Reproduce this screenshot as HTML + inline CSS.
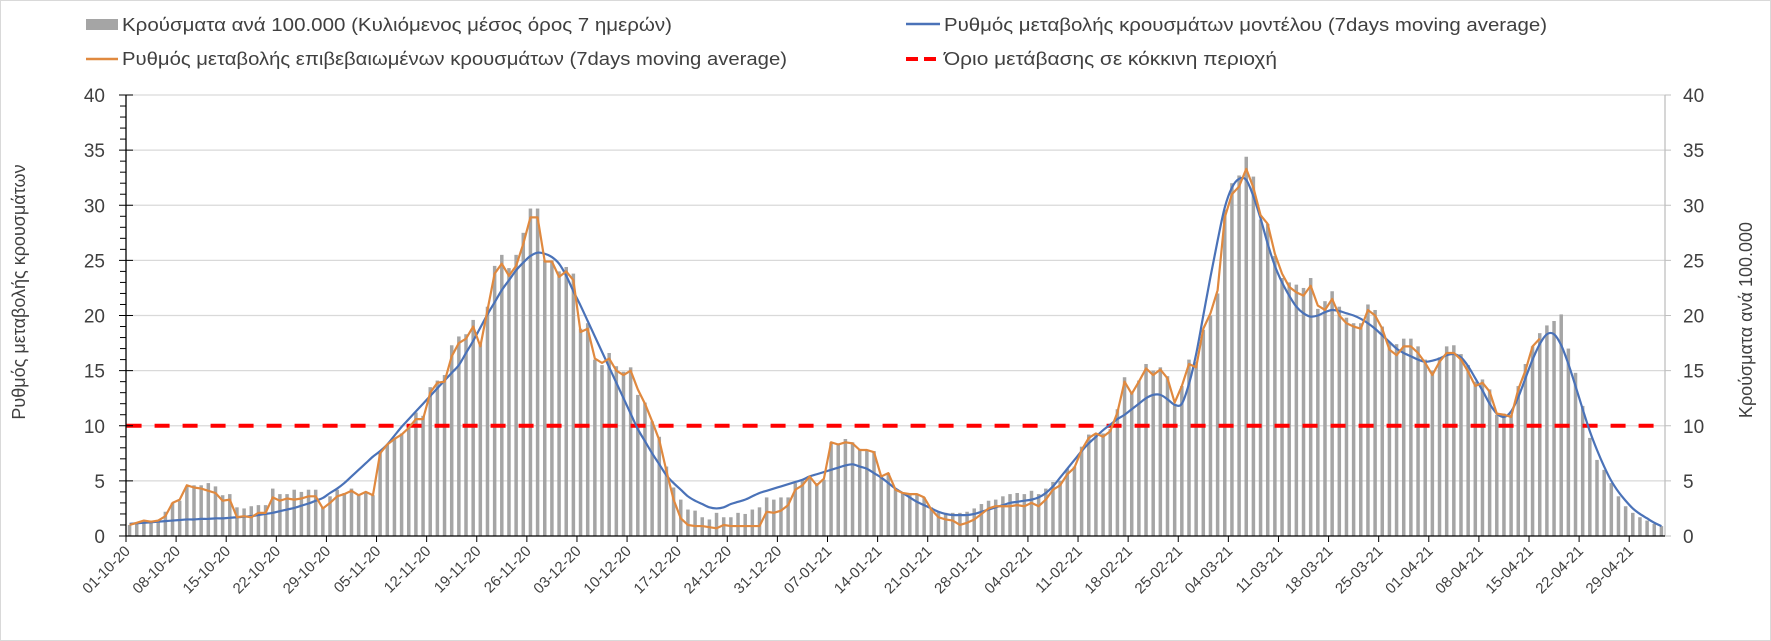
<!DOCTYPE html>
<html><head><meta charset="utf-8">
<style>
html,body{margin:0;padding:0;background:#fff;}
svg{display:block;font-family:"Liberation Sans",Arial,sans-serif;}
</style></head>
<body>
<svg id="chart" width="1771" height="641" viewBox="0 0 1771 641" xmlns="http://www.w3.org/2000/svg">
<rect x="0.5" y="0.5" width="1770" height="640" fill="#fff" stroke="#d9d9d9"/>
<g id="legend">
  <g>
    <rect x="86" y="19" width="32" height="11" fill="#a5a5a5"/>
    <text x="122" y="31" font-size="18" fill="#404040" textLength="550" lengthAdjust="spacingAndGlyphs">Κρούσματα ανά 100.000 (Κυλιόμενος μέσος όρος 7 ημερών)</text>
  </g>
  <g>
    <line x1="86" y1="59" x2="118" y2="59" stroke="#e0893f" stroke-width="2.5"/>
    <text x="122" y="65" font-size="18" fill="#404040" textLength="665" lengthAdjust="spacingAndGlyphs">Ρυθμός μεταβολής επιβεβαιωμένων κρουσμάτων (7days moving average)</text>
  </g>
  <g>
    <line x1="906" y1="24" x2="940" y2="24" stroke="#4a72b8" stroke-width="2.5"/>
    <text x="944" y="31" font-size="18" fill="#404040" textLength="603" lengthAdjust="spacingAndGlyphs">Ρυθμός μεταβολής κρουσμάτων μοντέλου (7days moving average)</text>
  </g>
  <g>
    <line x1="906" y1="59" x2="940" y2="59" stroke="#ff0000" stroke-width="4" stroke-dasharray="12,6"/>
    <text x="944" y="65" font-size="18" fill="#404040" textLength="333" lengthAdjust="spacingAndGlyphs">Όριο μετάβασης σε κόκκινη περιοχή</text>
  </g>
</g>
<text transform="translate(25,292) rotate(-90)" text-anchor="middle" font-size="18" fill="#404040">Ρυθμός μεταβολής κρουσμάτων</text>
<text transform="translate(1752,320) rotate(-90)" text-anchor="middle" font-size="18" fill="#404040">Κρούσματα ανά 100.000</text>
<g id="grid"></g>
<g id="bars"></g>
<g id="lines"></g>
<g id="axes"></g>
</svg>
<script>
const casesPer100k = [
1.0,1.2,1.4,1.4,1.4,2.2,3.0,3.2,4.5,4.6,
4.6,4.8,4.5,3.7,3.8,2.6,2.5,2.7,2.8,2.8,
4.3,3.8,3.8,4.2,4.0,4.2,4.2,2.6,3.6,4.2,
3.9,4.3,3.8,4.0,3.7,7.6,8.3,8.8,9.3,10.1,
11.2,10.9,13.5,14.1,14.6,17.3,18.1,18.3,19.6,17.5,
20.8,24.5,25.5,24.3,25.5,27.5,29.7,29.7,25.0,25.0,
24.0,24.4,23.8,18.8,19.3,16.0,15.5,16.6,15.4,14.9,
15.3,12.8,12.1,10.4,9.0,6.3,4.4,3.3,2.4,2.3,
1.7,1.5,2.1,1.7,1.7,2.1,2.0,2.4,2.6,3.5,
3.3,3.5,3.5,4.8,5.1,5.4,4.8,5.1,8.5,8.4,
8.8,8.5,7.9,7.8,7.7,5.5,5.7,4.3,3.9,3.8,
3.8,3.5,2.6,2.2,2.1,2.1,2.1,2.2,2.5,2.9,
3.2,3.3,3.6,3.8,3.9,3.8,4.1,3.8,4.3,4.9,
5.0,6.1,6.3,8.1,9.2,9.3,9.3,9.7,11.5,14.4,
13.0,14.1,15.6,15.0,15.3,14.5,12.0,13.6,16.0,15.8,
18.7,20.0,22.0,29.6,32.0,32.7,34.4,32.6,28.7,28.3,
25.4,23.4,23.0,22.8,22.5,23.4,20.6,21.3,22.2,20.8,
19.8,19.3,19.3,21.0,20.5,19.0,17.6,17.4,17.9,17.9,
17.2,16.0,15.0,16.2,17.2,17.3,16.5,15.5,14.0,14.2,
13.3,11.0,11.1,11.0,13.6,15.6,17.2,18.4,19.1,19.5,
20.1,17.0,14.8,11.8,8.9,6.9,6.0,4.8,3.6,2.7,
2.1,1.7,1.4,1.1,0.9];
const confirmedRate = [
1.0,1.2,1.4,1.3,1.4,1.8,3.0,3.3,4.6,4.4,
4.3,4.1,3.9,3.2,3.3,1.7,1.8,1.7,2.1,2.1,
3.5,3.2,3.4,3.3,3.4,3.6,3.6,2.5,3.0,3.6,
3.8,4.1,3.7,4.0,3.7,7.5,8.3,8.8,9.2,9.8,
10.6,10.6,13.0,13.9,14.0,16.3,17.5,17.9,19.0,17.2,
20.5,23.8,24.7,23.6,24.5,26.5,28.9,28.9,24.9,24.9,
23.5,24.0,23.2,18.5,18.8,16.1,15.7,16.1,15.0,14.6,
15.0,13.3,12.0,10.4,8.7,5.9,3.3,1.6,1.0,0.9,
0.9,0.8,0.7,1.0,0.9,0.9,0.9,0.9,0.9,2.2,
2.1,2.3,2.8,4.2,4.6,5.4,4.6,5.2,8.5,8.3,
8.5,8.4,7.8,7.8,7.6,5.4,5.7,4.2,3.9,3.8,
3.8,3.5,2.4,1.7,1.5,1.4,1.0,1.2,1.5,2.0,
2.5,2.7,2.7,2.7,2.8,2.7,3.0,2.7,3.3,4.2,
4.6,5.6,6.2,7.8,8.9,9.3,9.0,9.5,11.2,14.0,
12.9,14.0,15.2,14.6,15.1,14.3,12.1,13.6,15.6,15.3,
18.8,20.2,22.3,28.9,31.0,31.7,33.3,31.6,29.1,28.3,
25.6,23.8,22.6,22.1,21.8,22.7,20.9,20.5,21.5,20.0,
19.3,19.0,18.8,20.5,20.0,18.8,16.9,16.4,17.2,17.2,
16.6,15.7,14.6,15.8,16.6,16.6,16.0,14.9,13.6,13.9,
13.1,11.1,11.0,10.8,13.3,15.0,17.2,17.9];
const modelRate = [
1.1,1.15,1.2,1.25,1.3,1.35,1.4,1.45,1.5,1.5,
1.55,1.55,1.6,1.6,1.65,1.7,1.75,1.8,1.9,2.0,
2.1,2.25,2.4,2.55,2.75,2.95,3.2,3.45,3.9,4.3,
4.8,5.4,6.0,6.6,7.2,7.7,8.3,9.1,9.9,10.6,
11.3,12.0,12.7,13.4,14.1,14.8,15.5,16.6,17.7,18.9,
20.1,21.2,22.3,23.2,24.1,24.8,25.4,25.7,25.6,25.3,
24.7,23.6,22.2,20.9,19.5,18.1,16.7,15.3,13.9,12.5,
11.1,9.7,8.6,7.5,6.5,5.5,4.8,4.2,3.6,3.2,
2.9,2.6,2.5,2.6,2.9,3.1,3.3,3.6,3.9,4.1,
4.3,4.5,4.7,4.9,5.1,5.4,5.6,5.8,6.0,6.2,
6.4,6.5,6.3,6.1,5.7,5.3,4.8,4.3,3.9,3.5,
3.1,2.8,2.5,2.2,2.0,1.9,1.9,1.9,2.0,2.2,
2.4,2.6,2.8,3.0,3.1,3.2,3.3,3.5,3.9,4.5,
5.3,6.1,6.9,7.7,8.4,9.0,9.6,10.1,10.6,11.0,
11.5,12.0,12.5,12.8,12.8,12.4,11.9,12.0,13.8,16.5,
20.0,23.5,26.8,29.8,31.6,32.4,32.3,30.8,28.8,26.5,
24.5,23.0,21.8,20.8,20.2,19.9,20.0,20.3,20.5,20.4,
20.2,20.0,19.7,19.3,18.8,18.2,17.6,17.0,16.6,16.3,
16.0,15.8,15.9,16.1,16.4,16.5,16.2,15.4,14.3,13.2,
12.0,11.1,10.8,11.3,12.6,14.3,16.0,17.4,18.3,18.3,
17.3,15.6,13.6,11.5,9.5,7.8,6.3,5.0,4.0,3.2,
2.5,2.0,1.6,1.2,0.9];
const thresholdValue = 10;
const yTicks = [0,5,10,15,20,25,30,35,40];
const xTickLabels = ["01-10-20","08-10-20","15-10-20","22-10-20","29-10-20","05-11-20","12-11-20","19-11-20","26-11-20","03-12-20","10-12-20","17-12-20","24-12-20","31-12-20","07-01-21","14-01-21","21-01-21","28-01-21","04-02-21","11-02-21","18-02-21","25-02-21","04-03-21","11-03-21","18-03-21","25-03-21","01-04-21","08-04-21","15-04-21","22-04-21","29-04-21"];

const NS="http://www.w3.org/2000/svg";
const L=126, R=1665, Y0=536, Y40=95, N=215;
const step=(R-L)/N;
const xEdge=i=>L+i*step;
const xC=i=>L+(i+0.5)*step;
const y=v=>Y0-(v/40)*(Y0-Y40);
function mk(tag,attrs,parent){const e=document.createElementNS(NS,tag);for(const k in attrs)e.setAttribute(k,attrs[k]);parent.appendChild(e);return e;}
const grid=document.getElementById('grid'),bars=document.getElementById('bars'),lines=document.getElementById('lines'),axes=document.getElementById('axes');

yTicks.forEach(t=>{ if(t>0){const g=mk('line',{x1:L,x2:R,y1:y(t),y2:y(t),stroke:'#d9d9d9','stroke-width':1.3},grid);

}});

casesPer100k.forEach((v,i)=>{const b=mk('rect',{x:xC(i)-1.75,y:y(v),width:3.5,height:Y0-y(v),fill:'#a5a5a5'},bars);

});

const th=mk('line',{x1:xC(0)-3,x2:R-6,y1:y(thresholdValue),y2:y(thresholdValue),stroke:'#ff0000','stroke-width':4,'stroke-dasharray':'15,13'},lines);



function smooth(pts){let d='M'+pts[0][0]+','+pts[0][1];for(let i=0;i<pts.length-1;i++){const p0=pts[Math.max(0,i-1)],p1=pts[i],p2=pts[i+1],p3=pts[Math.min(pts.length-1,i+2)];const c1=[p1[0]+(p2[0]-p0[0])/6,p1[1]+(p2[1]-p0[1])/6],c2=[p2[0]-(p3[0]-p1[0])/6,p2[1]-(p3[1]-p1[1])/6];d+=' C'+c1[0].toFixed(2)+','+c1[1].toFixed(2)+' '+c2[0].toFixed(2)+','+c2[1].toFixed(2)+' '+p2[0].toFixed(2)+','+p2[1].toFixed(2);}return d;}
const mPts=modelRate.map((v,i)=>[xC(i),y(v)]);
const ml=mk('path',{d:smooth(mPts),fill:'none',stroke:'#4a72b8','stroke-width':2.2},lines);


const oPts=confirmedRate.map((v,i)=>xC(i).toFixed(2)+','+y(v).toFixed(2)).join(' ');
const ol=mk('polyline',{points:oPts,fill:'none',stroke:'#e0893f','stroke-width':2.2,'stroke-linejoin':'round'},lines);



const la=mk('line',{x1:L,x2:L,y1:Y40,y2:Y0,stroke:'#000','stroke-width':1.3},axes);


for(let v=0;v<=40;v++){const major=v%5===0;mk('line',{x1:major?L-7:L-6,x2:major?L+7:L,y1:y(v),y2:y(v),stroke:'#000','stroke-width':1},axes);}
const ra=mk('line',{x1:R,x2:R,y1:Y40,y2:Y0,stroke:'#bfbfbf','stroke-width':1.3},axes);


yTicks.forEach(t=>{mk('line',{x1:R,x2:R+6,y1:y(t),y2:y(t),stroke:'#bfbfbf','stroke-width':1},axes);
const lt=mk('text',{x:L-21,y:y(t)+7,'text-anchor':'end','font-size':19,fill:'#404040'},axes);lt.textContent=t;


const rt=mk('text',{x:R+18,y:y(t)+7,'text-anchor':'start','font-size':19,fill:'#404040'},axes);rt.textContent=t;

});
const xa=mk('line',{x1:L,x2:R,y1:Y0,y2:Y0,stroke:'#000','stroke-width':1.3},axes);


xTickLabels.forEach((lab,k)=>{const xx=xEdge(k*7);mk('line',{x1:xx,x2:xx,y1:Y0,y2:Y0+6,stroke:'#000','stroke-width':1},axes);
const t=mk('text',{transform:'translate('+(xx+5)+','+(Y0+16)+') rotate(-45)','text-anchor':'end','font-size':15,fill:'#404040'},axes);t.textContent=lab;

});
</script>
</body></html>
